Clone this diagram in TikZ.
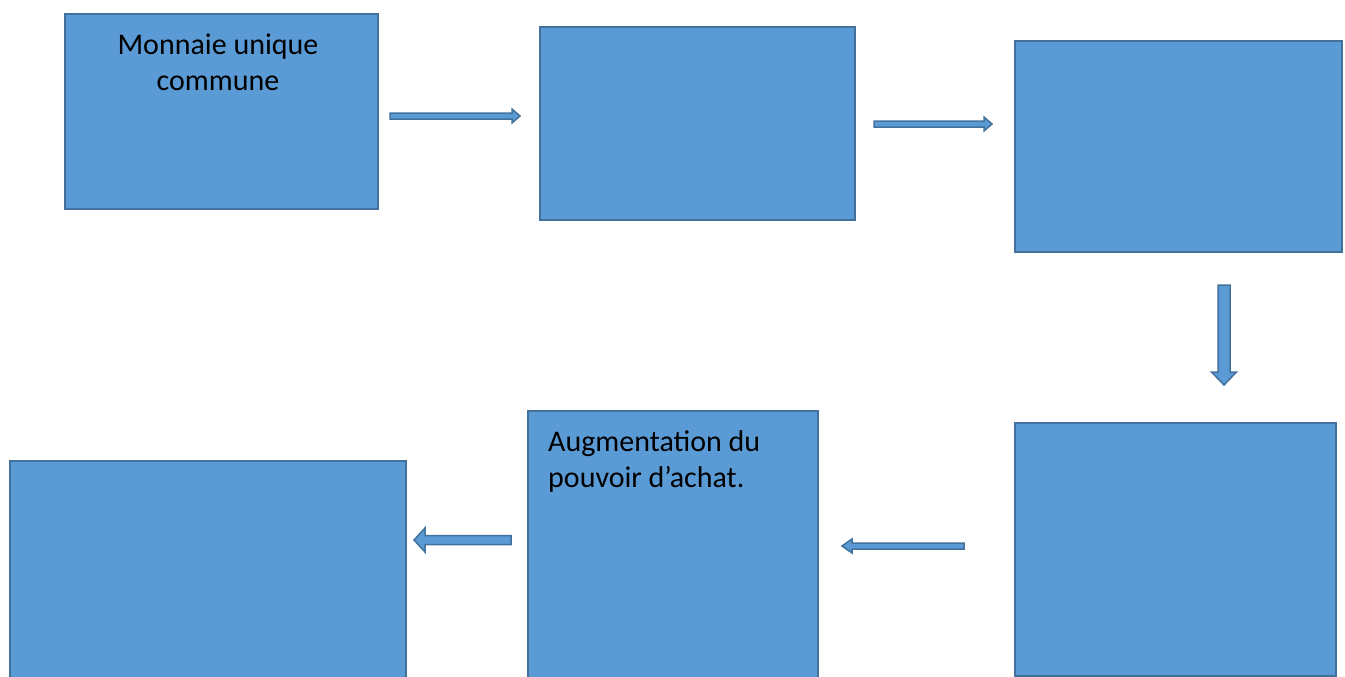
\documentclass[tikz,border=0pt]{standalone}
\usepackage{fontspec}
\setmainfont{Carlito}
\usetikzlibrary{calc}
\definecolor{boxfill}{HTML}{5B9BD5}
\definecolor{boxline}{HTML}{41719C}
% block arrow: #1 start, #2 end, #3 shaft half width, #4 head half width, #5 head length
\newcommand\blockarr[5]{%
  \path ($(#2)!#5!(#1)$) coordinate (ba-h);
  \filldraw[barrow] ($(#1)!#3!90:(#2)$) -- ($(ba-h)!#3!-90:(#1)$) -- ($(ba-h)!#4!-90:(#1)$)
    -- (#2) -- ($(ba-h)!#4!90:(#1)$) -- ($(ba-h)!#3!90:(#1)$) -- ($(#1)!#3!-90:(#2)$) -- cycle;}
\begin{document}
\begin{tikzpicture}[x=1pt,y=-1pt,
  box/.style={draw=boxline, fill=boxfill, line width=2.2pt, inner sep=0, anchor=north west},
  barrow/.style={draw=boxline, fill=boxfill, line width=1.5pt, line join=miter},
  lbl/.style={font=\fontsize{30}{36}\selectfont, inner sep=0}]
\useasboundingbox (0,0) rectangle (1345,677);
\clip (0,0) rectangle (1345,677);
\node[box, minimum width=313pt, minimum height=195pt] (b1) at (64,13) {};
\node[box, minimum width=315pt, minimum height=193pt] (b2) at (539,26) {};
\node[box, minimum width=327pt, minimum height=211pt] (b3) at (1014,40) {};
\node[box, minimum width=321pt, minimum height=253pt] (b4) at (1014,422) {};
\node[box, minimum width=290pt, minimum height=290pt] (b5) at (527,410) {};
\node[box, minimum width=396pt, minimum height=260pt] (b6) at (9,460) {};
\node[lbl, align=center, anchor=north] (t1) at (218,34) {Monnaie unique\\commune};
\node[lbl, align=left, anchor=north west] (t5) at (548,430) {Augmentation du\\pouvoir d’achat.};
\coordinate (a1s) at (390,116); \coordinate (a1e) at (520,116);
\coordinate (a2s) at (874,124); \coordinate (a2e) at (992,124);
\coordinate (a3s) at (1224,285); \coordinate (a3e) at (1224,385);
\coordinate (a4s) at (511,540); \coordinate (a4e) at (414,540);
\coordinate (a5s) at (964,546); \coordinate (a5e) at (842,546);
\blockarr{a1s}{a1e}{3pt}{7pt}{8pt}
\blockarr{a2s}{a2e}{3pt}{7pt}{8pt}
\blockarr{a3s}{a3e}{6pt}{12.5pt}{13pt}
\blockarr{a4s}{a4e}{4.5pt}{12pt}{11pt}
\blockarr{a5s}{a5e}{3pt}{7pt}{10pt}
\end{tikzpicture}
\end{document}
